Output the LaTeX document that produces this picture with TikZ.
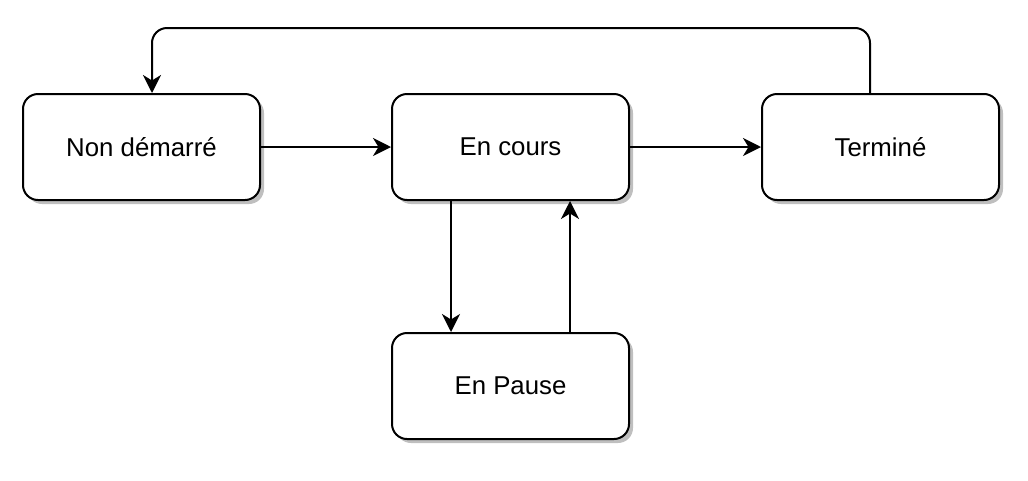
\documentclass[tikz,border=0pt]{standalone}
\usepackage{fontspec}
\setmainfont{Liberation Sans}
\usetikzlibrary{arrows.meta,shadows}
\tikzset{
  state/.style={draw=black, line width=2pt, fill=white, rounded corners=15pt,
    minimum width=237pt, minimum height=106pt, inner sep=0pt,
    font=\fontsize{25.8}{30}\selectfont,
    drop shadow={shadow xshift=4pt, shadow yshift=-4pt, fill=black!25, opacity=1}},
  arr/.style={line width=2pt, draw=black, -{Stealth[length=18pt, width=18pt, inset=5.5pt]}}
}
\begin{document}
\begin{tikzpicture}[x=1pt, y=-1pt]
\useasboundingbox (0,0) rectangle (1028,480);
\node[state] (nd) at (141.5,147) {Non démarré};
\node[state] (cours) at (510.5,147) {En cours};
\node[state] (term) at (880.5,147) {Terminé};
\node[state] (pause) at (510.5,386) {En Pause};
\coordinate (top) at (0,28);
\coordinate (a) at ([xshift=10.5pt]nd.north);
\coordinate (b) at ([xshift=-10.5pt]term.north);
\coordinate (c1) at ([xshift=-59.5pt]cours.south);
\coordinate (p1) at ([xshift=-59.5pt]pause.north);
\coordinate (c2) at ([xshift=59.5pt]cours.south);
\coordinate (p2) at ([xshift=59.5pt]pause.north);
\draw[arr] (nd.east) -- (cours.west);
\draw[arr] (cours.east) -- (term.west);
\draw[arr] (c1) -- (p1);
\draw[arr] (p2) -- (c2);
\draw[arr, rounded corners=15pt] (b) |- (a |- top) -- (a);
\end{tikzpicture}
\end{document}
